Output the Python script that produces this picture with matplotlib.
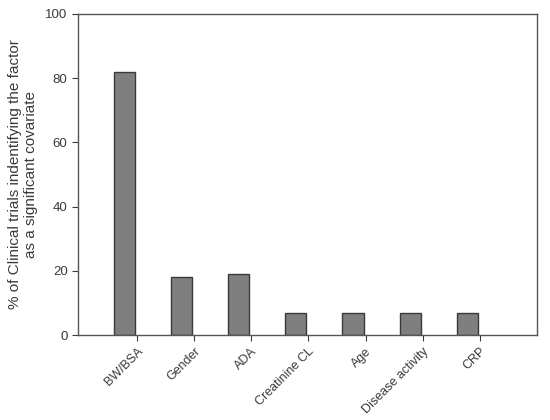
import matplotlib
matplotlib.use("Agg")
import matplotlib.pyplot as plt
import numpy as np

plt.rcParams['font.family'] = ['Liberation Sans', 'DejaVu Sans']

factors = ['BW/BSA', 'Gender', 'ADA', 'Creatinine CL', 'Age', 'Disease activity', 'CRP']
percent = [82, 18, 19, 7, 7, 7, 7]

dark = '#3a3a3a'

fig = plt.figure(figsize=(5.5, 4.2), dpi=100)
ax = fig.add_axes([78/550, 1-335/420, (537-78)/550, (335-14)/420])

x = np.arange(len(factors))
# bars sit just left of their tick, as in the original plot
bar_w = 0.37
ax.bar(x - 0.035 - bar_w, percent, width=bar_w, align='edge',
       color='#7f7f7f', edgecolor=dark, linewidth=1.0)

ax.set_xlim(-1.03, 7.0)
ax.set_ylim(0, 100)
ax.set_yticks([0, 20, 40, 60, 80, 100])
ax.set_xticks(x)
ax.set_xticklabels(factors, rotation=45, ha='right', rotation_mode='anchor',
                   fontsize=9, color=dark)
ax.tick_params(axis='y', labelsize=9.5, colors=dark, direction='out', length=4)
ax.tick_params(axis='x', direction='out', length=4, colors=dark)

for s in ax.spines.values():
    s.set_color('#555555')
    s.set_linewidth(1.0)

ax.set_ylabel('% of Clinical trials indentifying the factor\nas a significant covariate',
              fontsize=11, color=dark, labelpad=5)

fig.savefig('out.png', dpi=100)
